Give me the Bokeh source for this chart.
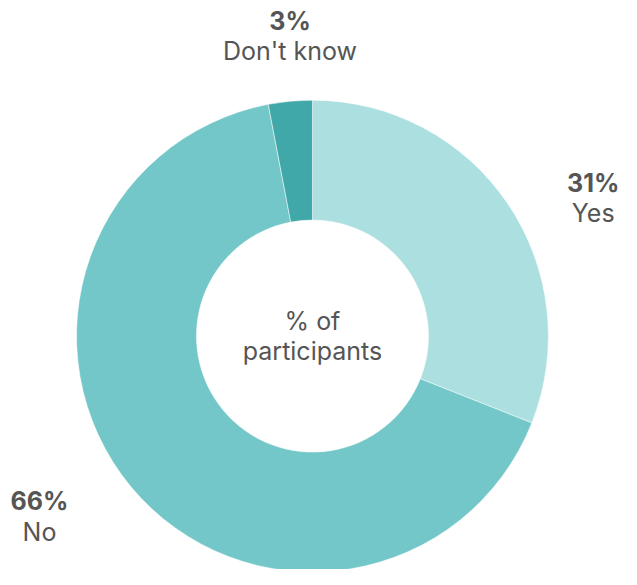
import math
from bokeh.plotting import figure
from bokeh.models import Range1d, ColumnDataSource
from bokeh.core.properties import value
from bokeh.embed import file_html
from bokeh.resources import INLINE

categories = ["Yes", "No", "Don't know"]
percents = [31, 66, 3]
colors = ["#acdfe0", "#73c7c8", "#40a8a9"]
center_lines = ["% of", "participants"]

# layout: data units are reference-image pixels (637 x 585), y measured from the bottom
W, H = 621, 569
REF_W, REF_H = 637, 585
def sy(y):
    return REF_H - y

cx, cy = 320, sy(345)
outer_r, inner_r = 242, 119
label_pos = {"Yes": (608, 188, 218), "No": (40, 515, 546), "Don't know": (297, 21, 52)}

total = sum(percents)
starts, ends = [], []
a = math.pi / 2
for v in percents:
    b = a - v / total * 2 * math.pi
    starts.append(b)
    ends.append(a)
    a = b

src = ColumnDataSource(dict(start=starts, end=ends, color=colors, cat=categories))

p = figure(width=W, height=H, output_backend="svg", toolbar_location=None,
           x_range=Range1d(0, REF_W), y_range=Range1d(0, REF_H),
           min_border=0)
p.axis.visible = False
p.grid.visible = False
p.outline_line_color = None
p.background_fill_color = "white"

p.annular_wedge(x=cx, y=cy, inner_radius=inner_r, outer_radius=outer_r,
                start_angle="start", end_angle="end", fill_color="color",
                line_color="white", line_width=0.5, source=src)

font = value("Inter")
tcolor = "#555555"
fs = "25px"
for cat, pct in zip(categories, percents):
    x, y1, y2 = label_pos[cat]
    p.text(x=[x], y=[sy(y1)], text=[f"{pct}%"], text_font=font, text_font_style="bold",
           text_font_size=fs, text_color=tcolor, text_align="center", text_baseline="middle")
    p.text(x=[x], y=[sy(y2)], text=[cat], text_font=font,
           text_font_size=fs, text_color=tcolor, text_align="center", text_baseline="middle")

p.text(x=[cx, cx], y=[sy(330), sy(360)], text=center_lines, text_font=font,
       text_font_size=fs, text_color=tcolor, text_align="center", text_baseline="middle")

open("out.html", "w").write(file_html(p, INLINE))
